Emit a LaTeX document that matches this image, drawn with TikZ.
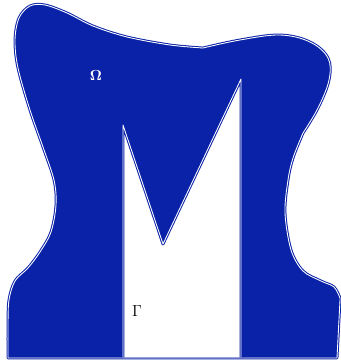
\documentclass[tikz,border=0pt]{standalone}
\usetikzlibrary{calc}
\definecolor{regionblue}{RGB}{10,34,168}
\begin{document}
\begin{tikzpicture}[x=0.75pt,y=-0.75pt,
  dbl/.style={draw=regionblue,line width=0.75pt,double=white,double distance=0.65pt,line join=round},
  lbl/.style={inner sep=0pt}]
\useasboundingbox (0,0) rectangle (341,361);
% outer region
\path[fill=regionblue,dbl]
  (8,358) -- (337,358) -- (340,300)
  -- plot[smooth,tension=0.55] coordinates {(340,298) (334,287) (321,281) (303,271) (291,250) (285,213) (288,180) (293,158) (303,133)}
  -- plot[smooth,tension=0.6] coordinates {(303,133) (318,108) (329,80) (328,58) (310,42) (280,35) (240,40) (203,48)}
  -- plot[smooth,tension=0.55] coordinates {(203,48) (170,45) (127,37) (93,26) (67,13) (45,5) (30,6) (19,18) (15,40) (18,68) (30,110) (43,147) (54,180) (56,205) (51,232) (40,252) (28,268) (15,281) (9,300) (8,325) (8,358)}
  -- cycle;
% notch (boundary Gamma)
\fill[white] (123,357.4) coordinate (n1) -- (123,125) coordinate (n2) -- (163,244) coordinate (n3) -- (241,79) coordinate (n4) -- (241,357.4) coordinate (n5) -- cycle;
\draw[dbl] (n1) -- (n2) -- (n3) -- (n4) -- (n5);
\node[lbl,text=white,font=\fontsize{11}{12}\selectfont\boldmath] (omega) at (96,75) {$\Omega$};
\node[lbl,text=black,font=\fontsize{13}{15}\selectfont] (gamma) at (137,311) {$\Gamma$};
\end{tikzpicture}
\end{document}
